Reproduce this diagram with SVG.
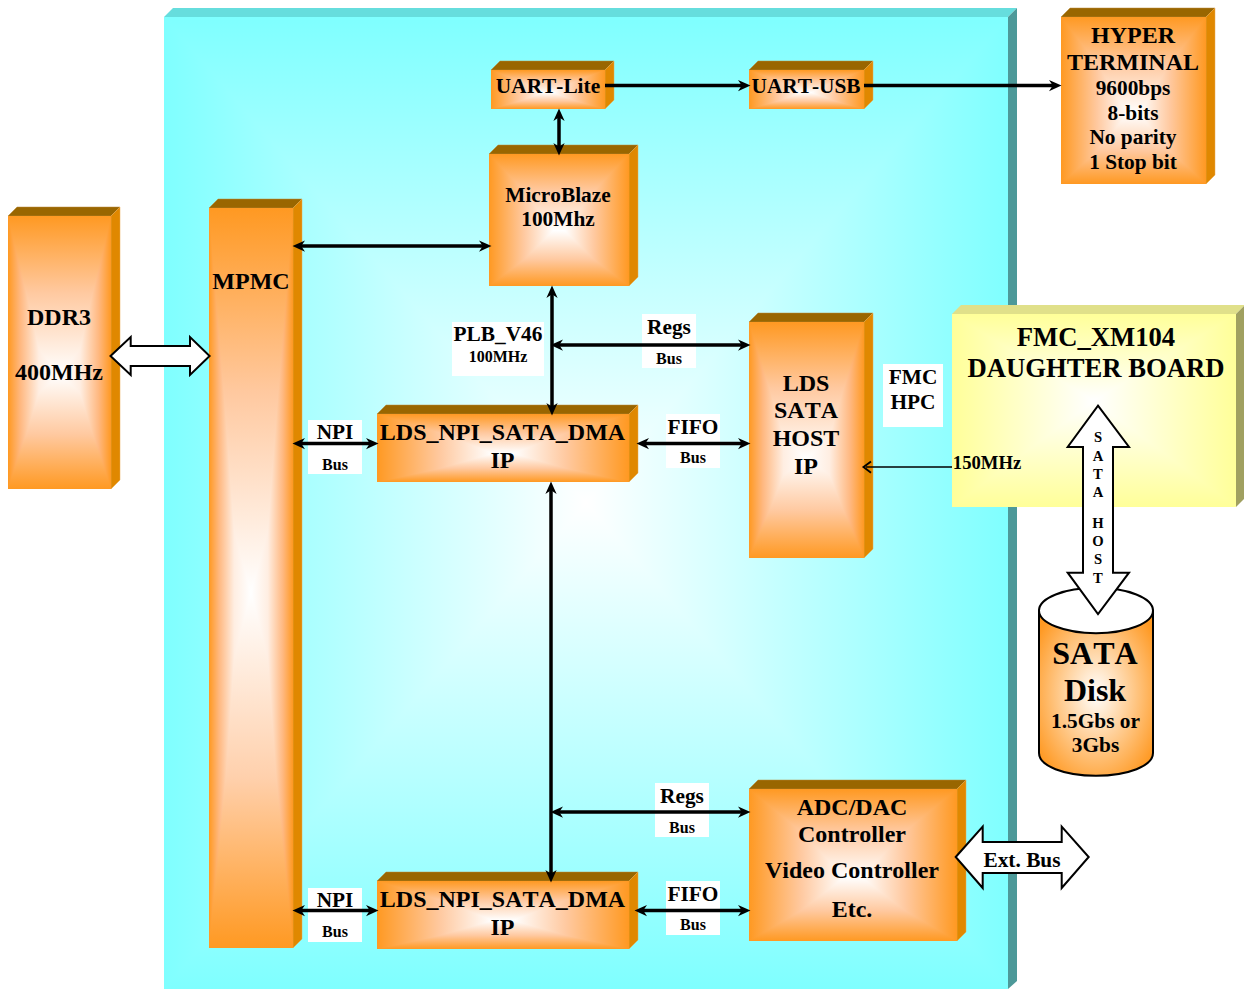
<svg xmlns="http://www.w3.org/2000/svg" width="1244" height="989" viewBox="0 0 1244 989">
<style>
text{font-family:"Liberation Serif","Times New Roman",serif;font-weight:bold;fill:#000;text-anchor:middle;font-kerning:none}
.f24{font-size:24px}.f21{font-size:21.33px}.f18{font-size:18.67px}.f16{font-size:16px}.f27{font-size:26.67px}.f32{font-size:32px}.f15{font-size:14.67px}
.iso{isolation:isolate}
.dk{mix-blend-mode:darken}
.top{fill:#996600;stroke:#b98a3a;stroke-width:.5}
.side{fill:#e08800;stroke:#e8a850;stroke-width:.5}
.oh{fill:url(#oh)}.ow{fill:url(#ow)}.ov{fill:url(#ov)}.om{fill:url(#om)}
.box{fill:#fff}
.bus{fill:none;stroke:#000;stroke-width:3.500}
.both{marker-start:url(#h);marker-end:url(#h)}
.one{marker-end:url(#h)}
.fat{fill:#fff;stroke:#000;stroke-width:2;stroke-linejoin:miter}
</style>
<defs>
<linearGradient id="oh"><stop offset="0" stop-color="#ff9922"/><stop offset=".12" stop-color="#ffb880"/><stop offset=".3" stop-color="#ffeee2"/><stop offset=".5" stop-color="#fff"/><stop offset=".7" stop-color="#ffeee2"/><stop offset=".88" stop-color="#ffb880"/><stop offset="1" stop-color="#ff9922"/></linearGradient>
<linearGradient id="ow"><stop offset="0" stop-color="#ff9922"/><stop offset=".25" stop-color="#ffc9a0"/><stop offset=".46" stop-color="#fff"/><stop offset=".54" stop-color="#fff"/><stop offset=".75" stop-color="#ffc9a0"/><stop offset="1" stop-color="#ff9922"/></linearGradient>
<linearGradient id="ov" x2="0" y2="1"><stop offset="0" stop-color="#ff9922"/><stop offset=".28" stop-color="#ffc9a0"/><stop offset=".58" stop-color="#fff"/><stop offset=".8" stop-color="#ffc9a0"/><stop offset="1" stop-color="#ff9922"/></linearGradient>
<linearGradient id="om" x2="0" y2="1"><stop offset="0" stop-color="#ff9922"/><stop offset=".25" stop-color="#ffc9a0"/><stop offset=".52" stop-color="#fff"/><stop offset=".77" stop-color="#ffd0ac"/><stop offset="1" stop-color="#ff9922"/></linearGradient>
<linearGradient id="yh"><stop offset="0" stop-color="#ffff99"/><stop offset=".5" stop-color="#fff"/><stop offset="1" stop-color="#ffff99"/></linearGradient>
<linearGradient id="yv" x2="0" y2="1"><stop offset="0" stop-color="#ffff99"/><stop offset=".45" stop-color="#fff"/><stop offset="1" stop-color="#ffff99"/></linearGradient>
<linearGradient id="ch"><stop offset="0" stop-color="#7fffff"/><stop offset=".5" stop-color="#fff"/><stop offset="1" stop-color="#7fffff"/></linearGradient>
<linearGradient id="cv" x2="0" y2="1"><stop offset="0" stop-color="#7fffff"/><stop offset=".5" stop-color="#fff"/><stop offset="1" stop-color="#7fffff"/></linearGradient>
<radialGradient id="disk" cx=".5" cy=".5" r=".62"><stop offset="0" stop-color="#fff"/><stop offset="1" stop-color="#ff9922"/></radialGradient>
<marker id="h" markerUnits="userSpaceOnUse" markerWidth="20" markerHeight="20" refX="0" refY="0" viewBox="-8 -8 16 16" orient="auto-start-reverse" overflow="visible"><path d="M6 0L-4-4.500L-1 0L-4 4.500Z" fill="#000"/></marker>
<marker id="t" markerUnits="userSpaceOnUse" markerWidth="20" markerHeight="20" refX="0" refY="0" viewBox="-8 -8 16 16" orient="auto" overflow="visible"><path d="M-4-4.500L2 0L-4 4.500" fill="none" stroke="#000" stroke-width="1.500"/></marker>
</defs>
<rect width="1244" height="989" fill="#fff"/>
<g id="board">
<polygon points="164,17 173,8 1017,8 1008,17" fill="#66dddd"/>
<polygon points="1008,17 1017,8 1017,981 1008,989" fill="#4d9999"/>
<g class="iso"><rect x="164" y="17" width="844" height="972" fill="url(#ch)"/><rect class="dk" x="164" y="17" width="844" height="972" fill="url(#cv)"/></g>
</g>
<g id="ddr3">
<polygon class="top" points="8,216 17,207 120,207 111,216"/><polygon class="side" points="111,216 120,207 120,480 111,489"/>
<g class="iso"><rect class="oh" x="8" y="216" width="103" height="273"/><rect class="ov dk" x="8" y="216" width="103" height="273"/></g>
<text class="f24" x="59" y="325">DDR3</text><text class="f24" x="59" y="380">400MHz</text>
</g>
<g id="mpmc">
<polygon class="top" points="209,208 218,199 302,199 293,208"/><polygon class="side" points="293,208 302,199 302,939 293,948"/>
<g class="iso"><rect class="oh" x="209" y="208" width="84" height="740"/><rect class="om dk" x="209" y="208" width="84" height="740"/></g>
<text class="f24" x="251" y="289">MPMC</text>
</g>
<g id="uart-lite">
<polygon class="top" points="491,70 500,61 614,61 605,70"/><polygon class="side" points="605,70 614,61 614,100 605,109"/>
<g class="iso"><rect class="ow" x="491" y="70" width="114" height="39"/><rect class="ov dk" x="491" y="70" width="114" height="39"/></g>
<text class="f21" x="548" y="93">UART-Lite</text>
</g>
<g id="uart-usb">
<polygon class="top" points="749,70 758,61 873,61 864,70"/><polygon class="side" points="864,70 873,61 873,100 864,109"/>
<g class="iso"><rect class="ow" x="749" y="70" width="115" height="39"/><rect class="ov dk" x="749" y="70" width="115" height="39"/></g>
<text class="f21" x="806" y="93">UART-USB</text>
</g>
<g id="microblaze">
<polygon class="top" points="489,154 498,145 638,145 629,154"/><polygon class="side" points="629,154 638,145 638,277 629,286"/>
<g class="iso"><rect class="ow" x="489" y="154" width="140" height="132"/><rect class="ov dk" x="489" y="154" width="140" height="132"/></g>
<text class="f21" x="558" y="202">MicroBlaze</text><text class="f21" x="558" y="226">100Mhz</text>
</g>
<g id="hyper-terminal">
<polygon class="top" points="1061,17 1070,8 1215,8 1206,17"/><polygon class="side" points="1206,17 1215,8 1215,175 1206,184"/>
<g class="iso"><rect class="ow" x="1061" y="17" width="145" height="167"/><rect class="ov dk" x="1061" y="17" width="145" height="167"/></g>
<text class="f24" x="1133" y="43">HYPER</text><text class="f24" x="1133" y="70">TERMINAL</text>
<text class="f21" x="1133" y="95">9600bps</text><text class="f21" x="1133" y="120">8-bits</text><text class="f21" x="1133" y="144">No parity</text><text class="f21" x="1133" y="169">1 Stop bit</text>
</g>
<g id="lds-sata-host">
<polygon class="top" points="749,322 758,313 873,313 864,322"/><polygon class="side" points="864,322 873,313 873,549 864,558"/>
<g class="iso"><rect class="oh" x="749" y="322" width="115" height="236"/><rect class="ov dk" x="749" y="322" width="115" height="236"/></g>
<text class="f24" x="806" y="391">LDS</text><text class="f24" x="806" y="418">SATA</text><text class="f24" x="806" y="446">HOST</text><text class="f24" x="806" y="474">IP</text>
</g>
<g id="dma-1">
<polygon class="top" points="377,414 386,405 638,405 629,414"/><polygon class="side" points="629,414 638,405 638,473 629,482"/>
<g class="iso"><rect class="ow" x="377" y="414" width="252" height="68"/><rect class="ov dk" x="377" y="414" width="252" height="68"/></g>
<text class="f24" x="502.500" y="440">LDS_NPI_SATA_DMA</text><text class="f24" x="502.500" y="468">IP</text>
</g>
<g id="dma-2">
<polygon class="top" points="377,881 386,872 638,872 629,881"/><polygon class="side" points="629,881 638,872 638,940 629,949"/>
<g class="iso"><rect class="ow" x="377" y="881" width="252" height="68"/><rect class="ov dk" x="377" y="881" width="252" height="68"/></g>
<text class="f24" x="502.500" y="907">LDS_NPI_SATA_DMA</text><text class="f24" x="502.500" y="935">IP</text>
</g>
<g id="adc-dac">
<polygon class="top" points="749,789 758,780 966,780 957,789"/><polygon class="side" points="957,789 966,780 966,932 957,941"/>
<g class="iso"><rect class="ow" x="749" y="789" width="208" height="152"/><rect class="ov dk" x="749" y="789" width="208" height="152"/></g>
<text class="f24" x="852" y="815">ADC/DAC</text><text class="f24" x="852" y="842">Controller</text><text class="f24" x="852" y="878">Video Controller</text><text class="f24" x="852" y="917">Etc.</text>
</g>
<g id="fmc-board">
<polygon points="952,314 961,305 1245,305 1236,314" fill="#e0e08a"/><polygon points="1236,314 1245,305 1245,498 1236,507" fill="#a0a060"/>
<g class="iso"><rect x="952" y="314" width="284" height="193" fill="url(#yh)"/><rect class="dk" x="952" y="314" width="284" height="193" fill="url(#yv)"/></g>
<text class="f27" x="1096" y="346">FMC_XM104</text><text class="f27" x="1096" y="377">DAUGHTER BOARD</text>
</g>
<g id="label-boxes">
<rect class="box" x="308" y="420" width="54" height="54"/>
<rect class="box" x="308" y="888" width="54" height="54"/>
<rect class="box" x="666" y="414" width="54" height="54"/>
<rect class="box" x="666" y="881" width="54" height="54"/>
<rect class="box" x="642" y="314" width="54" height="54"/>
<rect class="box" x="655" y="783" width="54" height="54"/>
<rect class="box" x="452" y="322" width="92" height="54"/>
<rect class="box" x="883" y="364" width="60" height="63"/>
</g>
<g id="connectors">
<line class="bus one" x1="605" y1="85.500" x2="743" y2="85.500"/>
<line class="bus one" x1="864" y1="85.500" x2="1054" y2="85.500"/>
<line class="bus both" x1="559" y1="116" x2="559" y2="148"/>
<line class="bus both" x1="300" y1="246" x2="484" y2="246"/>
<line class="bus both" x1="552" y1="293" x2="552" y2="408"/>
<line class="bus both" x1="558" y1="345" x2="743" y2="345"/>
<line class="bus both" x1="300" y1="443.500" x2="371" y2="443.500"/>
<line class="bus both" x1="644" y1="443.500" x2="743" y2="443.500"/>
<line class="bus both" x1="551" y1="489" x2="551" y2="875"/>
<line class="bus both" x1="558" y1="812" x2="743" y2="812"/>
<line class="bus both" x1="300" y1="910.500" x2="371" y2="910.500"/>
<line class="bus both" x1="642" y1="910.500" x2="743" y2="910.500"/>
<line x1="952" y1="467" x2="866" y2="467" stroke="#000" stroke-width="1.500" marker-end="url(#t)"/>
</g>
<g id="sata-disk">
<path d="M1039 610.500V753C1039 766 1064 775.700 1096 775.700S1153 766 1153 753V610.500Z" fill="url(#disk)" stroke="#000" stroke-width="2"/>
<ellipse cx="1096" cy="610.500" rx="57" ry="22.700" fill="#fff" stroke="#000" stroke-width="2"/>
<text class="f32" x="1095" y="664">SATA</text><text class="f32" x="1095" y="701">Disk</text><text class="f21" x="1095.500" y="728">1.5Gbs or</text><text class="f21" x="1095.500" y="752">3Gbs</text>
</g>
<g id="ddr-arrow"><polygon class="fat" points="110.500,356 130.700,337 130.700,346 190,346 190,337 209.600,356 190,375 190,366 130.700,366 130.700,375"/></g>
<g id="sata-arrow">
<polygon class="fat" points="1098,405.700 1129,447 1113,447 1113,572.700 1129,572.700 1098,614 1067.700,572.700 1083,572.700 1083,447 1067.700,447"/>
<text class="f15" x="1098" y="442">S</text><text class="f15" x="1098" y="461">A</text><text class="f15" x="1098" y="479">T</text><text class="f15" x="1098" y="497">A</text><text class="f15" x="1098" y="528">H</text><text class="f15" x="1098" y="546">O</text><text class="f15" x="1098" y="564">S</text><text class="f15" x="1098" y="583">T</text>
</g>
<g id="ext-bus">
<polygon class="fat" points="955.700,857 982.700,826.700 982.700,842 1061.700,842 1061.700,826.700 1088.700,857 1061.700,888 1061.700,873 982.700,873 982.700,888"/>
<text class="f21" x="1022" y="867">Ext. Bus</text>
</g>
<g id="labels">
<text class="f21" x="335" y="439">NPI</text><text class="f16" x="335" y="470">Bus</text>
<text class="f21" x="335" y="907">NPI</text><text class="f16" x="335" y="937">Bus</text>
<text class="f21" x="693" y="434">FIFO</text><text class="f16" x="693" y="463">Bus</text>
<text class="f21" x="693" y="901">FIFO</text><text class="f16" x="693" y="930">Bus</text>
<text class="f21" x="669" y="334">Regs</text><text class="f16" x="669" y="364">Bus</text>
<text class="f21" x="682" y="803">Regs</text><text class="f16" x="682" y="833">Bus</text>
<text class="f21" x="498" y="341">PLB_V46</text><text class="f16" x="498" y="362">100MHz</text>
<text class="f21" x="913" y="384">FMC</text><text class="f21" x="913" y="409">HPC</text>
<text class="f18" x="987" y="469">150MHz</text>
</g>
</svg>
